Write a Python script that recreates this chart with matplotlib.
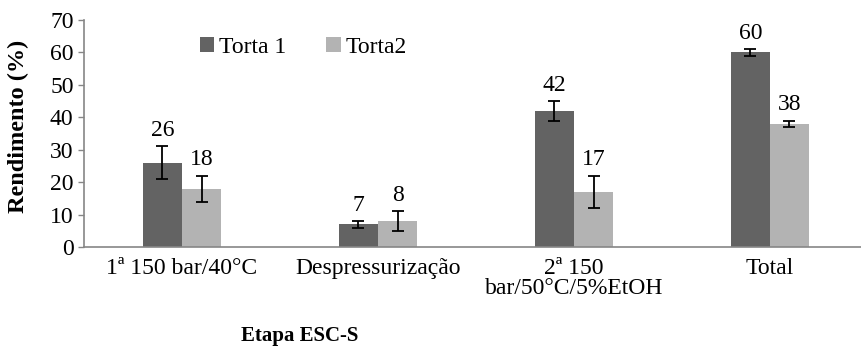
import numpy as np
import matplotlib
matplotlib.use('Agg')
import matplotlib.pyplot as plt

plt.rcParams['font.family'] = ['Liberation Serif', 'DejaVu Serif']

# dados do gráfico
categorias = ['1ª 150 bar/40°C', 'Despressurização', '2ª 150\nbar/50°C/5%EtOH', 'Total']
torta1 = [26, 7, 42, 60]
torta2 = [18, 8, 17, 38]
erro1 = [5, 1, 3, 1]
erro2 = [4, 3, 5, 1]

fig = plt.figure(figsize=(8.62, 3.52), dpi=100)
ax = fig.add_axes([84 / 862, 105 / 352, 778 / 862, 227 / 352])

x = np.arange(len(categorias))
w = 0.2
cor1 = '#636363'
cor2 = '#b3b3b3'

b1 = ax.bar(x - w / 2, torta1, w, color=cor1, label='Torta 1',
            yerr=erro1, capsize=4, error_kw=dict(elinewidth=1.3, capthick=1.3, ecolor='black'))
b2 = ax.bar(x + w / 2, torta2, w, color=cor2, label='Torta2',
            yerr=erro2, capsize=4, error_kw=dict(elinewidth=1.3, capthick=1.3, ecolor='black'))

# rótulos acima das barras de erro
for xs, vals, errs in [(x - w / 2, torta1, erro1), (x + w / 2, torta2, erro2)]:
    for xi, v, e in zip(xs, vals, errs):
        ax.annotate(str(v), (xi, v + e), xytext=(0, 4), textcoords='offset points',
                    ha='center', va='bottom', fontsize=17)

ax.set_xlim(-0.5, 3.47)
ax.set_ylim(0, 70)
ax.set_yticks(range(0, 71, 10))
ax.set_xticks(x)
ax.set_xticklabels(categorias, fontsize=17, linespacing=0.95)
ax.tick_params(axis='y', labelsize=17, length=4.5, color='#868686', width=1, pad=3)
ax.tick_params(axis='x', length=0, pad=8)

for s in ['top', 'right']:
    ax.spines[s].set_visible(False)
for s in ['left', 'bottom']:
    ax.spines[s].set_color('#868686')
    ax.spines[s].set_linewidth(1.2)

ax.set_ylabel('Rendimento (%)', fontsize=17.5, fontweight='bold')
ax.yaxis.set_label_coords(-55 / 778, 0.53)
fig.text(300 / 862, 1 - 336 / 352, 'Etapa ESC-S', fontsize=15, fontweight='bold',
         ha='center', va='center')

ax.legend(loc='upper left', bbox_to_anchor=(0.122, 1.02), ncol=2, frameon=False,
          fontsize=17, handlelength=0.6, handleheight=0.6, handletextpad=0.2,
          columnspacing=1.7)

plt.savefig('out.png', dpi=100)
